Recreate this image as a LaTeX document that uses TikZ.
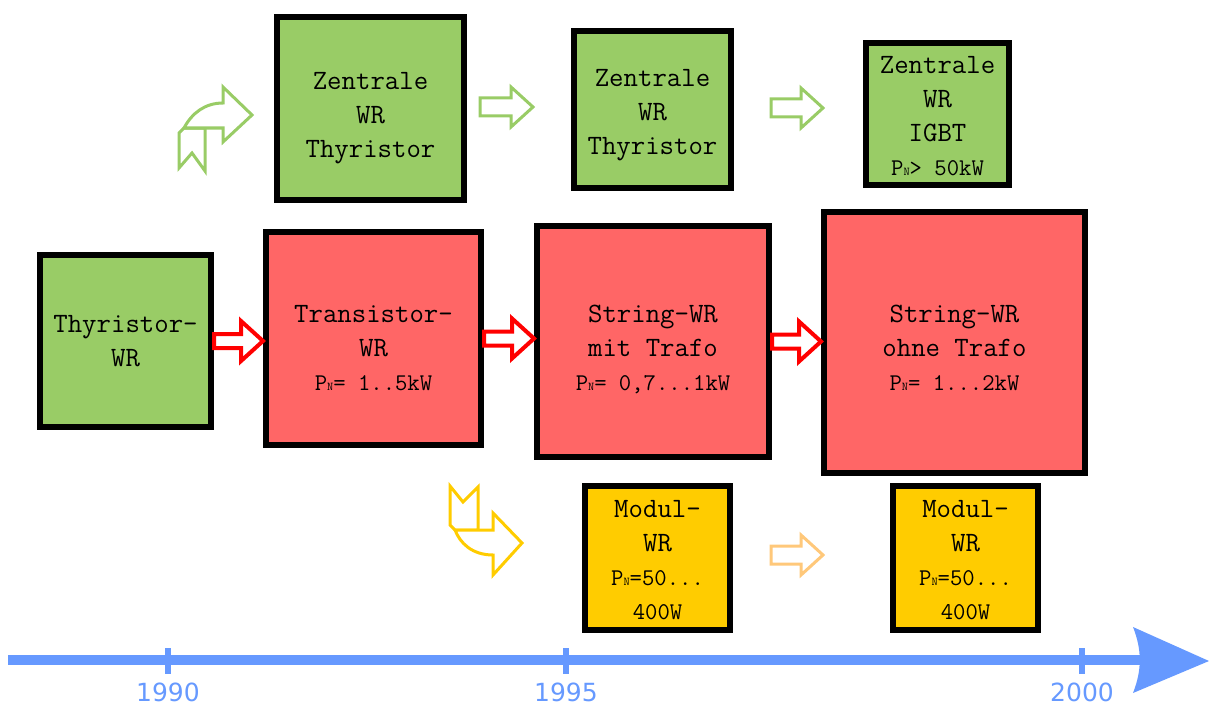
\documentclass[tikz,border=0pt]{standalone}
\usepackage{fontspec}
\newfontfamily\axisfont{DejaVu Sans}
\usetikzlibrary{calc}
\definecolor{wrgreen}{HTML}{99CC66}
\definecolor{wrred}{HTML}{FF6666}
\definecolor{wryellow}{HTML}{FFCC00}
\definecolor{wrblue}{HTML}{6699FF}
\definecolor{wrorange}{HTML}{FFC87A}
\newcommand{\pn}{P{\fontsize{12}{12}\selectfont N}}
\newcommand{\klein}{\fontsize{24}{30}\selectfont}
% Blockpfeil: Stil, Start, Ziel, halbe Schaftbreite
\newcommand{\blockpfeil}[4]{%
  \draw[#1] ($(#2)+(0,-#4)$) -- ($(#3)+(-22,-#4)$) -- ($(#3)+(-22,-20)$) -- (#3)
    -- ($(#3)+(-22,20)$) -- ($(#3)+(-22,#4)$) -- ($(#2)+(0,#4)$) -- cycle;}
\begin{document}
\begin{tikzpicture}[x=1pt,y=-1pt,
    wrbox/.style={draw=black, line width=6pt, inner sep=0pt},
    wrtext/.style={align=center, inner sep=0pt, font=\ttfamily\fontsize{28}{34}\selectfont},
    rotpfeil/.style={draw=red, fill=white, line width=4pt},
    gruenpfeil/.style={draw=wrgreen, fill=white, line width=3pt},
    gelbpfeil/.style={draw=wryellow, fill=white, line width=3pt}]
  \useasboundingbox (0,0) rectangle (1209,706);

  % Zentrale WR (obere Reihe)
  \node[wrbox, fill=wrgreen, minimum width=187pt, minimum height=183pt] (zt1) at (370.5,108.5) {};
  \node[wrtext] (zt1-text) at ([yshift=-10pt]zt1.center) {Zentrale\\WR\\Thyristor};
  \node[wrbox, fill=wrgreen, minimum width=157pt, minimum height=157pt] (zt2) at (652.5,109.5) {};
  \node[wrtext] (zt2-text) at ([yshift=-6pt]zt2.center) {Zentrale\\WR\\Thyristor};
  \node[wrbox, fill=wrgreen, minimum width=143pt, minimum height=142pt] (zi) at (937.5,114) {};
  \node[wrtext] (zi-text) at ([yshift=-2pt]zi.center) {Zentrale\\WR\\IGBT\\{\klein\pn> 50kW}};

  % Mittlere Reihe
  \node[wrbox, fill=wrgreen, minimum width=171pt, minimum height=172pt] (thy) at (125.5,341) {};
  \node[wrtext] (thy-text) at (thy.center) {Thyristor-\\WR};
  \node[wrbox, fill=wrred, minimum width=215pt, minimum height=213pt] (tra) at (373.5,338.5) {};
  \node[wrtext] (tra-text) at ([yshift=-10pt]tra.center) {Transistor-\\WR\\{\klein\pn= 1..5kW}};
  \node[wrbox, fill=wrred, minimum width=232pt, minimum height=231pt] (smt) at (653,341.5) {};
  \node[wrtext] (smt-text) at ([yshift=-8pt]smt.center) {String-WR\\mit Trafo\\{\klein\pn= 0,7...1kW}};
  \node[wrbox, fill=wrred, minimum width=261pt, minimum height=261pt] (sot) at (954.5,342.5) {};
  \node[wrtext] (sot-text) at ([yshift=-5pt]sot.center) {String-WR\\ohne Trafo\\{\klein\pn= 1...2kW}};

  % Modul-WR
  \node[wrbox, fill=wryellow, minimum width=145pt, minimum height=144pt] (mod1) at (657.5,558) {};
  \node[wrtext] (mod1-text) at ([yshift=-2pt]mod1.center) {Modul-\\WR\\{\klein\pn=50...}\\{\klein 400W}};
  \node[wrbox, fill=wryellow, minimum width=145pt, minimum height=144pt] (mod2) at (965.5,558) {};
  \node[wrtext] (mod2-text) at ([yshift=-2pt]mod2.center) {Modul-\\WR\\{\klein\pn=50...}\\{\klein 400W}};

  % Pfeile
  \blockpfeil{rotpfeil}{thy.east}{thy.east -| tra.west}{7}
  \blockpfeil{rotpfeil}{tra.east}{tra.east -| smt.west}{7}
  \blockpfeil{rotpfeil}{smt.east}{smt.east -| sot.west}{7}
  \coordinate (g1a) at (480,107);
  \coordinate (g1b) at (533,107);
  \coordinate (g2a) at (771,108);
  \coordinate (g2b) at (823,108);
  \coordinate (o1a) at (771,555);
  \coordinate (o1b) at (823,555);
  \blockpfeil{gruenpfeil}{g1a}{g1b}{9}
  \blockpfeil{gruenpfeil}{g2a}{g2b}{9}
  \blockpfeil{draw=wrorange, fill=white, line width=3pt}{o1a}{o1b}{9}

  % Gebogene Pfeile
  \draw[gruenpfeil] (179,168) -- (192,153) -- (205,171) -- (205,128) -- (184,128) -- (179,133) -- cycle;
  \draw[gruenpfeil] (184,128) -- (223,128) -- (223,142) -- (252,115) -- (223,87) -- (223,103)
    .. controls (205,103) and (192,113) .. (184,128) -- cycle;
  \draw[gelbpfeil] (450,486) -- (463,502) -- (478,487) -- (478,530) -- (455,530) -- (450,525) -- cycle;
  \draw[gelbpfeil] (455,530) -- (493,530) -- (493,513) -- (522,543) -- (493,575) -- (493,555)
    .. controls (472,555) and (460,543) .. (455,530) -- cycle;

  % Zeitachse
  \coordinate (t0) at (8,660);
  \coordinate (t1) at (1140,660);
  \draw[wrblue, line width=10pt] (t0) -- (t1);
  \fill[wrblue] (1133,627) -- (1209,661) -- (1133,693) .. controls (1142,670) and (1142,650) .. (1133,627) -- cycle;
  \foreach \x/\jahr in {168/1990, 566/1995, 1082/2000} {
    \draw[wrblue, line width=6pt] (\x,648) -- (\x,674);
    \node[wrblue, inner sep=0pt, font=\axisfont\fontsize{25}{25}\selectfont] (j\jahr) at (\x,692) {\jahr};
  }
\end{tikzpicture}
\end{document}
